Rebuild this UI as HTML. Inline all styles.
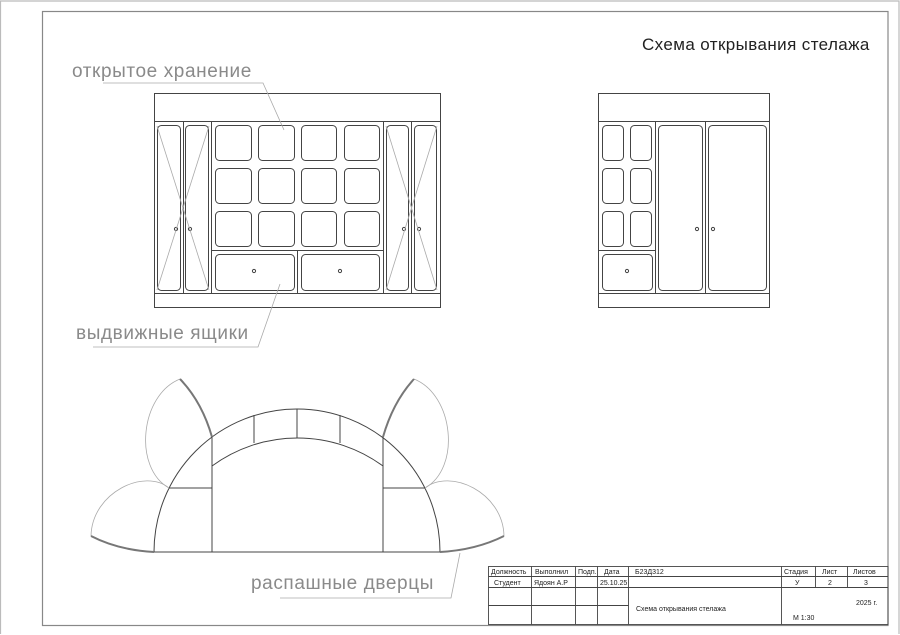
<!DOCTYPE html>
<html><head><meta charset="utf-8"><style>
html,body{margin:0;padding:0;background:#fff;}
svg{display:block;}
.lbl{font-family:"Liberation Sans","DejaVu Sans",sans-serif;fill:#8a8a8a;font-size:19px;letter-spacing:0.6px;}
.tb{font-family:"Liberation Sans","DejaVu Sans",sans-serif;fill:#222;font-size:7px;}
</style></head><body>
<svg width="900" height="635" viewBox="0 0 900 635" xmlns="http://www.w3.org/2000/svg">
<!-- frames -->
<path d="M0.5,634 V1 H899 V634" fill="none" stroke="#bbb" stroke-width="1.2"/>
<rect x="42.5" y="11.5" width="845.5" height="614" fill="none" stroke="#888" stroke-width="1.2"/>
<text x="642" y="50" font-family="Liberation Sans, DejaVu Sans, sans-serif" font-size="17" fill="#222" letter-spacing="0.4">Схема открывания стелажа</text>

<g fill="none" stroke="#444" stroke-width="1">
<!-- left cabinet -->
<rect x="154.5" y="93.5" width="286" height="214"/>
<line x1="154.5" y1="121.5" x2="440.5" y2="121.5"/>
<line x1="154.5" y1="293.5" x2="440.5" y2="293.5"/>
<line x1="183.5" y1="121.5" x2="183.5" y2="293.5"/>
<line x1="211.5" y1="121.5" x2="211.5" y2="293.5"/>
<line x1="383.5" y1="121.5" x2="383.5" y2="293.5"/>
<line x1="411.5" y1="121.5" x2="411.5" y2="293.5"/>
<line x1="211.5" y1="250.5" x2="383.5" y2="250.5"/>
<line x1="297.5" y1="250.5" x2="297.5" y2="293.5"/>
<rect x="157.5" y="125.5" width="23" height="165" rx="4"/>
<rect x="185.5" y="125.5" width="23" height="165" rx="4"/>
<rect x="386.5" y="125.5" width="22" height="165" rx="4"/>
<rect x="414.5" y="125.5" width="22" height="165" rx="4"/>
<g>
<rect x="215.5" y="125.5" width="36" height="35" rx="4"/><rect x="258.5" y="125.5" width="36" height="35" rx="4"/><rect x="301.5" y="125.5" width="35" height="35" rx="4"/><rect x="344.5" y="125.5" width="35" height="35" rx="4"/>
<rect x="215.5" y="168.5" width="36" height="35" rx="4"/><rect x="258.5" y="168.5" width="36" height="35" rx="4"/><rect x="301.5" y="168.5" width="35" height="35" rx="4"/><rect x="344.5" y="168.5" width="35" height="35" rx="4"/>
<rect x="215.5" y="211.5" width="36" height="35" rx="4"/><rect x="258.5" y="211.5" width="36" height="35" rx="4"/><rect x="301.5" y="211.5" width="35" height="35" rx="4"/><rect x="344.5" y="211.5" width="35" height="35" rx="4"/>
</g>
<rect x="215.5" y="254.5" width="79" height="36" rx="4"/>
<rect x="301.5" y="254.5" width="78" height="36" rx="4"/>
<circle cx="176" cy="229" r="1.6"/><circle cx="190" cy="229" r="1.6"/>
<circle cx="404" cy="229" r="1.6"/><circle cx="419" cy="229" r="1.6"/>
<circle cx="254" cy="271" r="1.6"/><circle cx="340" cy="271" r="1.6"/>

<!-- right cabinet -->
<rect x="598.5" y="93.5" width="171" height="214"/>
<line x1="598.5" y1="121.5" x2="769.5" y2="121.5"/>
<line x1="598.5" y1="293.5" x2="769.5" y2="293.5"/>
<line x1="655.5" y1="121.5" x2="655.5" y2="293.5"/>
<line x1="705.5" y1="121.5" x2="705.5" y2="293.5"/>
<line x1="598.5" y1="250.5" x2="655.5" y2="250.5"/>
<rect x="602.5" y="125.5" width="21" height="35" rx="4"/><rect x="630.5" y="125.5" width="21" height="35" rx="4"/>
<rect x="602.5" y="168.5" width="21" height="35" rx="4"/><rect x="630.5" y="168.5" width="21" height="35" rx="4"/>
<rect x="602.5" y="211.5" width="21" height="35" rx="4"/><rect x="630.5" y="211.5" width="21" height="35" rx="4"/>
<rect x="602.5" y="254.5" width="50" height="36" rx="4"/>
<rect x="658.5" y="125.5" width="44" height="165" rx="4"/>
<rect x="708.5" y="125.5" width="58" height="165" rx="4"/>
<circle cx="627" cy="271" r="1.6"/><circle cx="697" cy="229" r="1.6"/><circle cx="713" cy="229" r="1.6"/>

<!-- plan -->
<path d="M154,552 A143,143 0 0 1 440,552 Z"/>
<path d="M212,466 A144.5,144.5 0 0 1 383,466"/>
<line x1="212" y1="436" x2="212" y2="552"/>
<line x1="383" y1="436" x2="383" y2="552"/>
<line x1="169" y1="488" x2="212" y2="488"/>
<line x1="383" y1="488" x2="425" y2="488"/>
<line x1="254" y1="415" x2="254" y2="443"/>
<line x1="297" y1="409" x2="297" y2="438"/>
<line x1="340" y1="415" x2="340" y2="443"/>
</g>
<!-- X lines on side doors -->
<g stroke="#aaa" stroke-width="0.8" fill="none">
<line x1="157" y1="126" x2="209" y2="290"/><line x1="209" y1="126" x2="157" y2="290"/>
<line x1="386" y1="126" x2="437" y2="290"/><line x1="437" y1="126" x2="386" y2="290"/>
<!-- door swing arcs -->
<path d="M180,379 C140,395 133,468 169,488"/>
<path d="M91,536 C92,492 145,468 169,488"/>
<path d="M414,379 C454,395 461,468 425,488"/>
<path d="M504,536 C503,492 450,468 425,488"/>
</g>
<g stroke="#777" stroke-width="2" fill="none">
<path d="M212,437 Q202,402 180,379"/>
<path d="M383,437 Q393,402 414,379"/>
<path d="M154,552 Q118,550 91,536"/>
<path d="M440,552 Q476,550 504,536"/>
</g>

<!-- labels -->
<g stroke="#aaa" stroke-width="0.8" fill="none">
<polyline points="103,83 263,83 284,130"/>
<polyline points="93,347 258,347 280,284"/>
<polyline points="280,598 451,598 460,553"/>
</g>
<text class="lbl" x="72" y="77">открытое хранение</text>
<text class="lbl" x="76" y="339">выдвижные ящики</text>
<text class="lbl" x="251" y="589">распашные дверцы</text>

<!-- title block -->
<g stroke="#444" stroke-width="0.9" fill="none">
<rect x="488.5" y="566.5" width="399.5" height="58"/>
<line x1="488.5" y1="576.5" x2="888" y2="576.5"/>
<line x1="488.5" y1="587.5" x2="888" y2="587.5"/>
<line x1="488.5" y1="605.5" x2="628.5" y2="605.5"/>
<line x1="531.5" y1="566.5" x2="531.5" y2="624.5"/>
<line x1="575.5" y1="566.5" x2="575.5" y2="624.5"/>
<line x1="597.5" y1="566.5" x2="597.5" y2="624.5"/>
<line x1="628.5" y1="566.5" x2="628.5" y2="624.5"/>
<line x1="781.5" y1="566.5" x2="781.5" y2="624.5"/>
<line x1="815.5" y1="566.5" x2="815.5" y2="587.5"/>
<line x1="847.5" y1="566.5" x2="847.5" y2="587.5"/>
</g>
<g class="tb">
<text x="491" y="574">Должность</text>
<text x="535" y="574">Выполнил</text>
<text x="578" y="574">Подп.</text>
<text x="604" y="574">Дата</text>
<text x="635" y="574">Б23Д312</text>
<text x="784" y="574">Стадия</text>
<text x="822" y="574">Лист</text>
<text x="853" y="574">Листов</text>
<text x="494" y="585">Студент</text>
<text x="534" y="585">Ядоян А.Р</text>
<text x="600" y="585">25.10.25</text>
<text x="795" y="585">У</text>
<text x="828" y="585">2</text>
<text x="864" y="585">3</text>
<text x="636" y="611">Схема открывания стелажа</text>
<text x="856" y="605">2025 г.</text>
<text x="793" y="620">М 1:30</text>
</g>
</svg>
</body></html>
